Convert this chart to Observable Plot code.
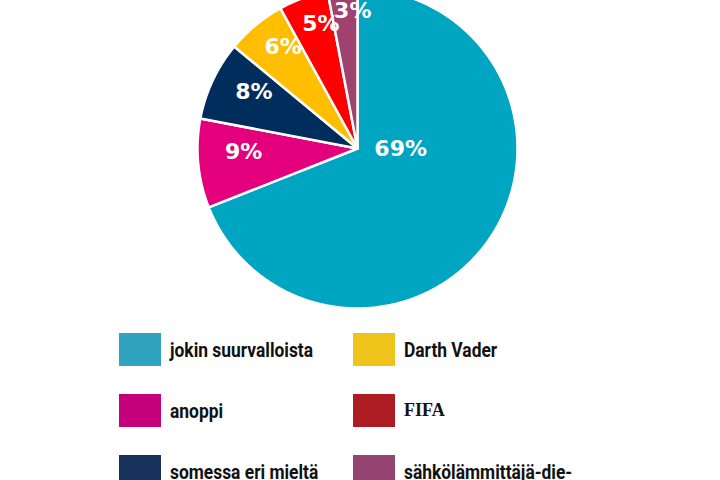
<!DOCTYPE html>
<html><head><meta charset="utf-8">
<script src="https://cdn.jsdelivr.net/npm/d3@7"></script>
<script src="https://cdn.jsdelivr.net/npm/@observablehq/plot@0.6"></script>
<style>
body{margin:0;background:#fff;overflow:hidden;width:720px;height:480px}
#chart{position:relative;width:720px;height:480px;overflow:hidden}
#chart svg{position:absolute;left:0;top:0}
.leg{position:absolute;display:flex;align-items:center;white-space:nowrap}
.sw{width:42px;height:33px;margin-right:9px;flex:none}
.lt{display:inline-block;transform:scaleX(0.87);transform-origin:left center;font-family:"Roboto",sans-serif;font-weight:700;font-size:20px;color:#111}
.lt.serif{transform:none;font-family:"Liberation Serif",serif;font-size:18px}
</style></head><body><div id="chart"></div>
<script>
const categories = ["jokin suurvalloista","anoppi","somessa eri mieltä","Darth Vader","FIFA","sähkölämmittäjä-die-"];
const values = [69, 9, 8, 6, 5, 3];
const sliceColors = ["#00a6c1","#e4007d","#002e5c","#ffbf00","#ff0000","#a0426f"];
const legendColors = ["#2fa3bf","#c5007b","#17315c","#eec41b","#ad1c22","#944470"];

const R = 160;
const arcs = d3.pie().sort(null).value(d => d.value)(categories.map((c, i) => ({cat: c, value: values[i]})));

const rows = [];
arcs.forEach(a => {
  rows.push({cat: a.data.cat, x: 0, y: 0});
  const n = Math.max(4, Math.ceil((a.endAngle - a.startAngle) / 0.01));
  for (let k = 0; k <= n; k++) {
    const t = a.startAngle + (a.endAngle - a.startAngle) * k / n;
    rows.push({cat: a.data.cat, x: R * Math.sin(t), y: R * Math.cos(t)});
  }
  rows.push({cat: a.data.cat, x: 0, y: 0});
});

const labelRows = arcs.map(a => {
  const v = a.data.value;
  if (v > 50) return {x: R * 0.27, y: 0, text: v + "%"};
  const t = (a.startAngle + a.endAngle) / 2 + 0.06;
  const r = 150 - 4 * v;
  return {x: r * Math.sin(t), y: r * Math.cos(t), text: v + "%"};
});

const plot = Plot.plot({
  width: 720, height: 320, margin: 0,
  x: {domain: [-357, 363], axis: null},
  y: {domain: [-172, 148], axis: null},
  color: {domain: categories, range: sliceColors},
  marks: [
    Plot.line(rows, {x: "x", y: "y", z: "cat", fill: "cat", stroke: "white", strokeWidth: 2.5, strokeLinejoin: "round"}),
    Plot.text(labelRows, {x: "x", y: "y", text: "text", fill: "white", fontSize: 22, fontWeight: "bold", fontFamily: "DejaVu Sans"})
  ]
});
const chart = document.getElementById("chart");
chart.appendChild(plot);

categories.forEach((c, i) => {
  const col = Math.floor(i / 3), row = i % 3;
  const d = document.createElement("div");
  d.className = "leg";
  d.style.left = (col ? 353 : 119) + "px";
  d.style.top = (333 + row * 61) + "px";
  const sw = document.createElement("div");
  sw.className = "sw";
  sw.style.background = legendColors[i];
  const t = document.createElement("span");
  t.className = "lt" + (c === "FIFA" ? " serif" : "");
  t.textContent = c;
  d.appendChild(sw); d.appendChild(t);
  chart.appendChild(d);
});
</script></body></html>
